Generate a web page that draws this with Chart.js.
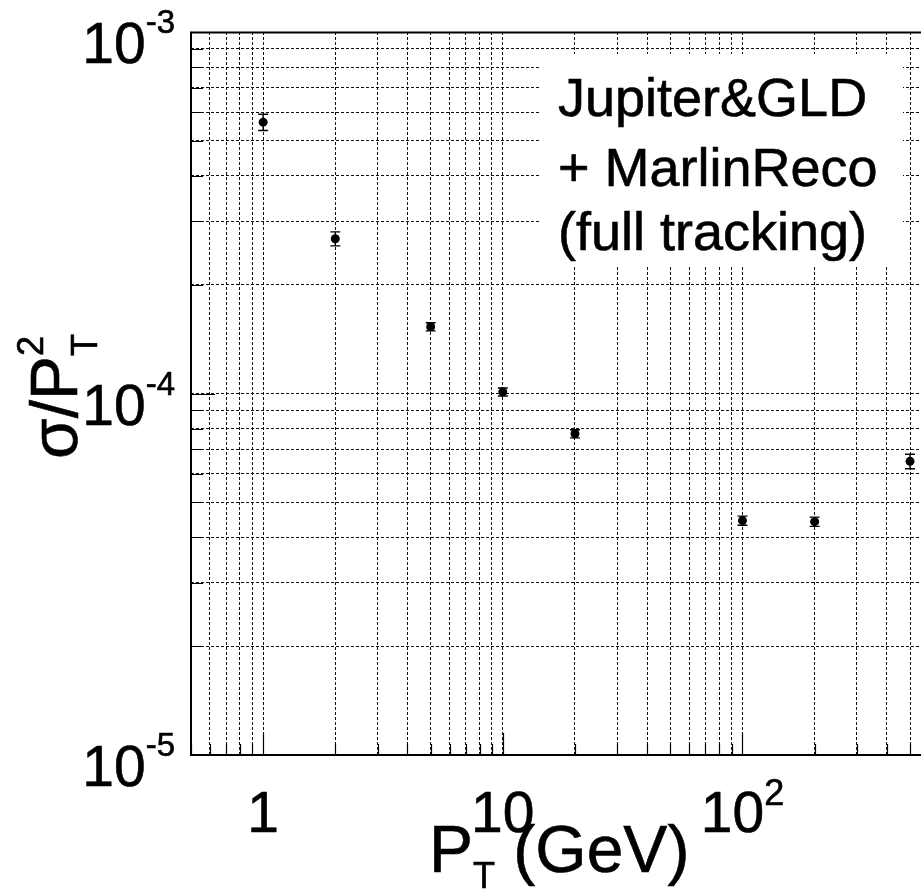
<!DOCTYPE html>
<html>
<head>
<meta charset="utf-8">
<script src="https://cdn.jsdelivr.net/npm/chart.js@4.4.0/dist/chart.umd.min.js"></script>
<style>
  html, body { margin: 0; padding: 0; background: #fff; overflow: hidden; }
  #wrap { width: 921px; height: 889px; overflow: hidden; }
</style>
</head>
<body>
<div id="wrap"><canvas id="chart" width="940" height="889"></canvas></div>
<script>
// P_T points (GeV) and measured resolution sigma/P_T^2
const ptValues = [1, 2, 5, 10, 20, 100, 200, 500];
const resValues = [5.63e-4, 2.68e-4, 1.53e-4, 1.01e-4, 7.74e-5, 4.45e-5, 4.42e-5, 6.49e-5];
const resErrors = [2.9e-5, 1.2e-5, 4.0e-6, 2.6e-6, 2.0e-6, 1.3e-6, 1.3e-6, 3.0e-6];

// axis ranges and labelled decades
const xRange = [0.5, 600];
const yRange = [1e-5, 1e-3];
const xLabels = [{v: 1, base: "1", exp: ""}, {v: 10, base: "10", exp: ""}, {v: 100, base: "10", exp: "2"}];
const yLabels = [{v: 1e-3, base: "10", exp: "-3"}, {v: 1e-4, base: "10", exp: "-4"}, {v: 1e-5, base: "10", exp: "-5"}];
const boxLines = ["Jupiter&GLD", "+ MarlinReco", "(full tracking)"];

const FONT = "'Liberation Sans', Arial, Helvetica, sans-serif";

// every 1..9 x 10^n inside [lo, hi]
function logTicks(lo, hi) {
    const out = [];
    for (let e = Math.floor(Math.log10(lo)); e <= Math.ceil(Math.log10(hi)); e++) {
        for (let m = 1; m <= 9; m++) {
            const v = parseFloat((m * Math.pow(10, e)).toPrecision(6));
            if (v >= lo * 0.999 && v <= hi * 1.001) out.push(v);
        }
    }
    return out;
}
function isDecade(v) {
    const l = Math.log10(v);
    return Math.abs(l - Math.round(l)) < 1e-6;
}

const points = ptValues.map((x, i) => ({x: x, y: resValues[i]}));

// text slightly thickened like the original print
function txt(ctx, s, x, y) {
    ctx.fillText(s, x, y);
    ctx.strokeText(s, x, y);
}

// draws "base" with a superscript
function drawPow(ctx, base, exp, x, y, bigSize, smallSize, align, supRise) {
    ctx.font = bigSize + "px " + FONT;
    const wb = ctx.measureText(base).width;
    ctx.font = smallSize + "px " + FONT;
    const we = exp ? ctx.measureText(exp).width : 0;
    const total = wb + we;
    let x0 = x;
    if (align === "center") x0 = x - total / 2;
    if (align === "right") x0 = x - total;
    ctx.textAlign = "left";
    ctx.textBaseline = "alphabetic";
    ctx.font = bigSize + "px " + FONT;
    txt(ctx, base, x0, y);
    if (exp) {
        ctx.font = smallSize + "px " + FONT;
        txt(ctx, exp, x0 + wb, y - supRise);
    }
}

const extras = {
    id: "extras",
    beforeDatasetsDraw(chart) {
        const ctx = chart.ctx;
        const xs = chart.scales.x, ys = chart.scales.y;
        ctx.save();

        // white text box hiding the grid
        ctx.fillStyle = "#fff";
        ctx.fillRect(539, 54, 364, 213);
        ctx.fillStyle = "#000";
        ctx.strokeStyle = "#000";
        ctx.lineWidth = 0.6;
        ctx.font = "54px " + FONT;
        ctx.textAlign = "left";
        ctx.textBaseline = "alphabetic";
        const baselines = [116, 186, 250];
        boxLines.forEach((t, i) => txt(ctx, t, 558, baselines[i]));

        // error bars
        ctx.lineWidth = 1.4;
        ptValues.forEach((pt, i) => {
            const px = xs.getPixelForValue(pt);
            const yHi = ys.getPixelForValue(resValues[i] + resErrors[i]);
            const yLo = ys.getPixelForValue(resValues[i] - resErrors[i]);
            ctx.beginPath();
            ctx.moveTo(px, yHi); ctx.lineTo(px, yLo);
            ctx.moveTo(px - 5, yHi); ctx.lineTo(px + 5, yHi);
            ctx.moveTo(px - 5, yLo); ctx.lineTo(px + 5, yLo);
            ctx.stroke();
        });
        ctx.restore();
    },
    afterDraw(chart) {
        const ctx = chart.ctx;
        const xs = chart.scales.x, ys = chart.scales.y;
        const a = chart.chartArea;
        ctx.save();
        ctx.strokeStyle = "#000";

        // inner tick marks
        ctx.lineWidth = 1.2;
        ctx.beginPath();
        xs.ticks.forEach(t => {
            const px = Math.round(xs.getPixelForValue(t.value)) + 0.5;
            const len = isDecade(t.value) ? 22 : 11;
            ctx.moveTo(px, a.bottom); ctx.lineTo(px, a.bottom - len);
        });
        ys.ticks.forEach(t => {
            const py = Math.round(ys.getPixelForValue(t.value)) + 0.5;
            const len = isDecade(t.value) ? 24 : 12;
            ctx.moveTo(a.left, py); ctx.lineTo(a.left + len, py);
        });
        ctx.stroke();

        // frame
        ctx.lineWidth = 2;
        ctx.beginPath();
        ctx.moveTo(a.right, a.top + 0.5);
        ctx.lineTo(a.left, a.top + 0.5);
        ctx.lineTo(a.left, a.bottom);
        ctx.lineTo(a.right, a.bottom);
        ctx.stroke();

        // tick labels
        ctx.fillStyle = "#000";
        ctx.lineWidth = 0.6;
        yLabels.forEach(l => {
            const py = ys.getPixelForValue(l.v);
            drawPow(ctx, l.base, l.exp, 175, py + 31, 57, 33, "right", 30);
        });
        xLabels.forEach(l => {
            const px = xs.getPixelForValue(l.v);
            drawPow(ctx, l.base, l.exp, px, 832, 57, 36, "center", 27);
        });

        // x title: P_T (GeV)
        ctx.textAlign = "left";
        ctx.font = "66px " + FONT;
        let x = 429;
        txt(ctx, "P", x, 872);
        x += ctx.measureText("P").width;
        ctx.font = "36px " + FONT;
        txt(ctx, "T", x, 888);
        x += ctx.measureText("T").width;
        ctx.font = "66px " + FONT;
        txt(ctx, " (GeV)", x, 872);

        // y title: sigma/P_T^2, rotated
        ctx.translate(77, 459);
        ctx.rotate(-Math.PI / 2);
        ctx.font = "66px " + FONT;
        txt(ctx, "\u03c3/P", 0, 0);
        const w = ctx.measureText("\u03c3/P").width;
        ctx.font = "36px " + FONT;
        txt(ctx, "T", w, 20);
        txt(ctx, "2", w, -34);
        ctx.restore();
    }
};

const ctx = document.getElementById("chart").getContext("2d");
const chart = new Chart(ctx, {
    type: "scatter",
    data: {
        datasets: [{
            label: "resolution",
            data: points,
            pointRadius: 4.5,
            pointHoverRadius: 4.5,
            pointBackgroundColor: "#000",
            pointBorderColor: "#000",
            pointBorderWidth: 0,
            showLine: false
        }]
    },
    options: {
        responsive: false,
        animation: false,
        events: [],
        layout: {padding: {left: 191, top: 32, right: 11, bottom: 134}},
        plugins: {legend: {display: false}, tooltip: {enabled: false}},
        scales: {
            x: {
                type: "logarithmic",
                min: xRange[0],
                max: xRange[1],
                afterBuildTicks: s => { s.ticks = logTicks(xRange[0], xRange[1]).map(v => ({value: v})); },
                ticks: {display: false},
                grid: {color: "#111", lineWidth: 1, drawTicks: false},
                border: {display: false, dash: [3, 2]}
            },
            y: {
                type: "logarithmic",
                min: yRange[0],
                max: yRange[1],
                afterBuildTicks: s => { s.ticks = logTicks(yRange[0], yRange[1]).map(v => ({value: v})); },
                ticks: {display: false},
                grid: {color: "#111", lineWidth: 1, drawTicks: false},
                border: {display: false, dash: [3, 2]}
            }
        }
    },
    plugins: [extras]
});
</script>
</body>
</html>
